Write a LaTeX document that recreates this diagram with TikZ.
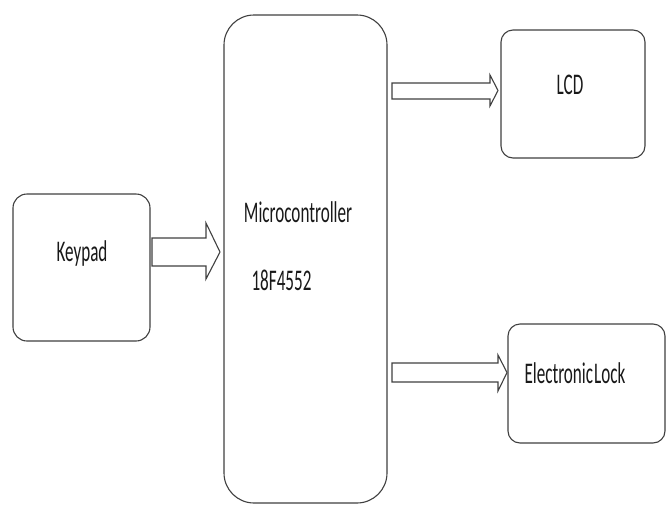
\documentclass[tikz,border=0pt]{standalone}
\usepackage{fontspec}
\setmainfont{Carlito}
\begin{document}
\begin{tikzpicture}[x=1pt,y=-1pt,
  blk/.style={draw=black!75, line width=1.1pt, rounded corners=#1, inner sep=0pt, fill=white},
  blk/.default=13pt,
  lbl/.style={inner sep=0pt, font=\fontsize{30}{32}\selectfont, text=black!90},
  barrow/.style={draw=black!75, line width=1.1pt, fill=white, line join=miter}]
\useasboundingbox (0,0) rectangle (670,504);
\node[blk=14pt, minimum width=137pt, minimum height=147pt] (keypad) at (81.5,267.5) {};
\node[blk=30pt, minimum width=163pt, minimum height=488pt] (mcu) at (305.5,259) {};
\node[blk=12pt, minimum width=144pt, minimum height=128pt] (lcd) at (573,94) {};
\node[blk=12pt, minimum width=157pt, minimum height=119pt] (lock) at (586.5,383.5) {};
\node[lbl] (tk) at (82,253) {\scalebox{0.57}[1]{Keypad}};
\node[lbl] (tm) at (298,212) {\scalebox{0.57}[1]{Microcontroller}};
\node[lbl] (tn) at (281.5,280) {\scalebox{0.57}[1]{18F4552}};
\node[lbl] (tl) at (570,85) {\scalebox{0.57}[1]{LCD}};
\node[lbl] (te) at (575,373) {\scalebox{0.57}[1]{Electronic\hspace{2pt}Lock}};
% block arrows
\draw[barrow] (152,238) -- (206,238) -- (206,223) -- (220,252) -- (206,279) -- (206,266) -- (152,266) -- cycle;
\draw[barrow] (392,83) -- (490,83) -- (490,75) -- (498,90.5) -- (490,106) -- (490,99) -- (392,99) -- cycle;
\draw[barrow] (392,363) -- (498,363) -- (498,355) -- (507,372.5) -- (498,391) -- (498,382) -- (392,382) -- cycle;
\end{tikzpicture}
\end{document}
